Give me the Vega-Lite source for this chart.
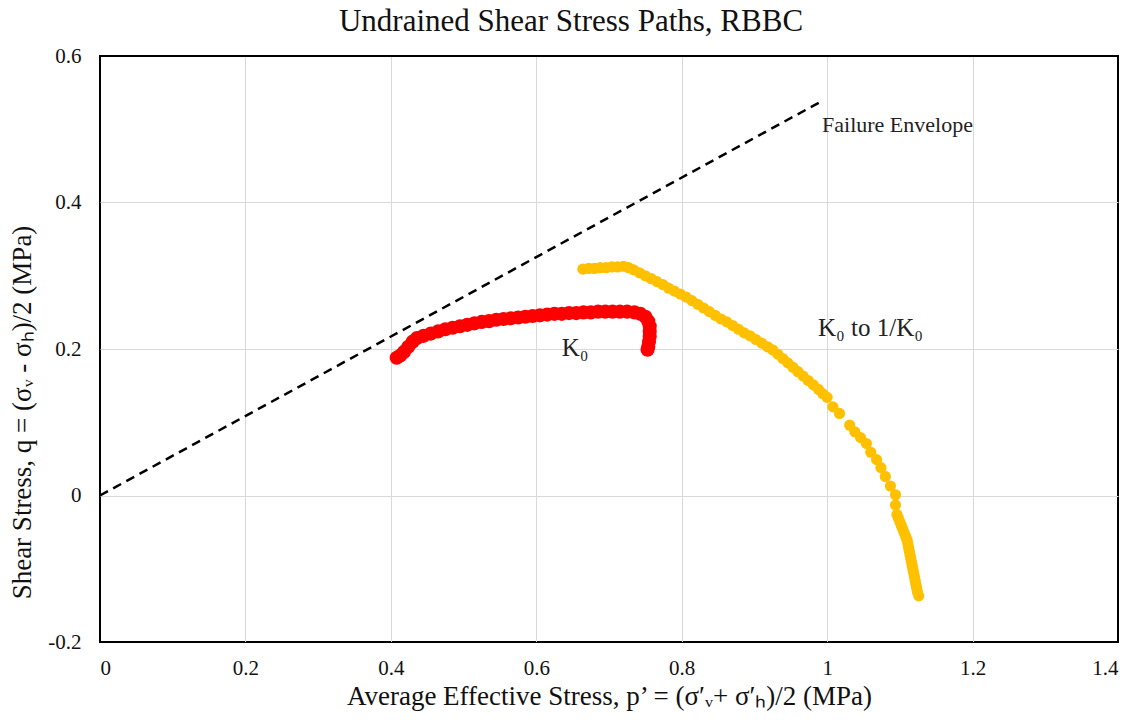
{
  "$schema": "https://vega.github.io/schema/vega-lite/v6.json",
  "width": 1018,
  "height": 586,
  "autosize": {"type": "none"},
  "padding": {"left": 100, "top": 56, "right": 20, "bottom": 83},
  "background": "white",
  "config": {
    "font": "Liberation Serif",
    "view": {"stroke": "#000", "strokeWidth": 2},
    "axis": {
      "domain": false,
      "ticks": false,
      "grid": true,
      "gridWidth": 1,
      "labelFont": "Liberation Serif",
      "labelFontSize": 21,
      "labelColor": "#111",
      "titleFont": "Liberation Serif",
      "titleFontSize": 27,
      "titleFontWeight": "normal",
      "titleColor": "#111"
    }
  },
  "title": {
    "text": "Undrained Shear Stress Paths, RBBC",
    "font": "Liberation Serif",
    "fontSize": 31,
    "fontWeight": "normal",
    "color": "#111",
    "anchor": "middle",
    "frame": "group",
    "dx": -38,
    "dy": 30,
    "baseline": "alphabetic",
    "offset": 13
  },
  "datasets": {
    "envelope": [
      {"p": 0, "q": 0},
      {"p": 0.99, "q": 0.537}
    ],
    "labels": [
      {"p": 0.993, "q": 0.496, "text": "Failure Envelope", "kind": "small"},
      {"p": 0.635, "q": 0.19, "text": "K₀", "kind": "big"},
      {"p": 0.9875, "q": 0.218, "text": "K₀ to 1/K₀", "kind": "big"}
    ],
    "paths": [
      {"series": "K0", "p": 0.408, "q": 0.188},
      {"series": "K0", "p": 0.413, "q": 0.191},
      {"series": "K0", "p": 0.418, "q": 0.196},
      {"series": "K0", "p": 0.424, "q": 0.203},
      {"series": "K0", "p": 0.430, "q": 0.210},
      {"series": "K0", "p": 0.436, "q": 0.215},
      {"series": "K0", "p": 0.445, "q": 0.218},
      {"series": "K0", "p": 0.455, "q": 0.221},
      {"series": "K0", "p": 0.465, "q": 0.224},
      {"series": "K0", "p": 0.475, "q": 0.227},
      {"series": "K0", "p": 0.485, "q": 0.229},
      {"series": "K0", "p": 0.495, "q": 0.231},
      {"series": "K0", "p": 0.505, "q": 0.233},
      {"series": "K0", "p": 0.515, "q": 0.235},
      {"series": "K0", "p": 0.525, "q": 0.237},
      {"series": "K0", "p": 0.535, "q": 0.238},
      {"series": "K0", "p": 0.545, "q": 0.240},
      {"series": "K0", "p": 0.555, "q": 0.241},
      {"series": "K0", "p": 0.565, "q": 0.242},
      {"series": "K0", "p": 0.575, "q": 0.243},
      {"series": "K0", "p": 0.585, "q": 0.244},
      {"series": "K0", "p": 0.595, "q": 0.245},
      {"series": "K0", "p": 0.605, "q": 0.246},
      {"series": "K0", "p": 0.615, "q": 0.247},
      {"series": "K0", "p": 0.625, "q": 0.248},
      {"series": "K0", "p": 0.635, "q": 0.248},
      {"series": "K0", "p": 0.645, "q": 0.249},
      {"series": "K0", "p": 0.655, "q": 0.249},
      {"series": "K0", "p": 0.665, "q": 0.250},
      {"series": "K0", "p": 0.675, "q": 0.250},
      {"series": "K0", "p": 0.685, "q": 0.251},
      {"series": "K0", "p": 0.695, "q": 0.251},
      {"series": "K0", "p": 0.705, "q": 0.251},
      {"series": "K0", "p": 0.715, "q": 0.251},
      {"series": "K0", "p": 0.725, "q": 0.251},
      {"series": "K0", "p": 0.735, "q": 0.250},
      {"series": "K0", "p": 0.743, "q": 0.248},
      {"series": "K0", "p": 0.750, "q": 0.244},
      {"series": "K0", "p": 0.754, "q": 0.238},
      {"series": "K0", "p": 0.756, "q": 0.231},
      {"series": "K0", "p": 0.756, "q": 0.224},
      {"series": "K0", "p": 0.756, "q": 0.217},
      {"series": "K0", "p": 0.755, "q": 0.210},
      {"series": "K0", "p": 0.754, "q": 0.203},
      {"series": "K0", "p": 0.753, "q": 0.199},
      {"series": "K0 to 1/K0", "p": 0.664, "q": 0.309},
      {"series": "K0 to 1/K0", "p": 0.672, "q": 0.310},
      {"series": "K0 to 1/K0", "p": 0.680, "q": 0.310},
      {"series": "K0 to 1/K0", "p": 0.688, "q": 0.311},
      {"series": "K0 to 1/K0", "p": 0.696, "q": 0.311},
      {"series": "K0 to 1/K0", "p": 0.704, "q": 0.312},
      {"series": "K0 to 1/K0", "p": 0.712, "q": 0.312},
      {"series": "K0 to 1/K0", "p": 0.720, "q": 0.313},
      {"series": "K0 to 1/K0", "p": 0.727, "q": 0.311},
      {"series": "K0 to 1/K0", "p": 0.734, "q": 0.308},
      {"series": "K0 to 1/K0", "p": 0.742, "q": 0.304},
      {"series": "K0 to 1/K0", "p": 0.750, "q": 0.300},
      {"series": "K0 to 1/K0", "p": 0.758, "q": 0.296},
      {"series": "K0 to 1/K0", "p": 0.766, "q": 0.292},
      {"series": "K0 to 1/K0", "p": 0.774, "q": 0.288},
      {"series": "K0 to 1/K0", "p": 0.782, "q": 0.283},
      {"series": "K0 to 1/K0", "p": 0.790, "q": 0.279},
      {"series": "K0 to 1/K0", "p": 0.798, "q": 0.275},
      {"series": "K0 to 1/K0", "p": 0.806, "q": 0.271},
      {"series": "K0 to 1/K0", "p": 0.814, "q": 0.266},
      {"series": "K0 to 1/K0", "p": 0.822, "q": 0.261},
      {"series": "K0 to 1/K0", "p": 0.830, "q": 0.256},
      {"series": "K0 to 1/K0", "p": 0.838, "q": 0.251},
      {"series": "K0 to 1/K0", "p": 0.846, "q": 0.246},
      {"series": "K0 to 1/K0", "p": 0.854, "q": 0.241},
      {"series": "K0 to 1/K0", "p": 0.862, "q": 0.237},
      {"series": "K0 to 1/K0", "p": 0.870, "q": 0.232},
      {"series": "K0 to 1/K0", "p": 0.878, "q": 0.227},
      {"series": "K0 to 1/K0", "p": 0.886, "q": 0.222},
      {"series": "K0 to 1/K0", "p": 0.894, "q": 0.218},
      {"series": "K0 to 1/K0", "p": 0.902, "q": 0.213},
      {"series": "K0 to 1/K0", "p": 0.910, "q": 0.208},
      {"series": "K0 to 1/K0", "p": 0.918, "q": 0.203},
      {"series": "K0 to 1/K0", "p": 0.925, "q": 0.199},
      {"series": "K0 to 1/K0", "p": 0.932, "q": 0.193},
      {"series": "K0 to 1/K0", "p": 0.939, "q": 0.187},
      {"series": "K0 to 1/K0", "p": 0.946, "q": 0.181},
      {"series": "K0 to 1/K0", "p": 0.953, "q": 0.175},
      {"series": "K0 to 1/K0", "p": 0.960, "q": 0.169},
      {"series": "K0 to 1/K0", "p": 0.967, "q": 0.163},
      {"series": "K0 to 1/K0", "p": 0.974, "q": 0.157},
      {"series": "K0 to 1/K0", "p": 0.981, "q": 0.151},
      {"series": "K0 to 1/K0", "p": 0.988, "q": 0.145},
      {"series": "K0 to 1/K0", "p": 0.994, "q": 0.139},
      {"series": "K0 to 1/K0", "p": 1.000, "q": 0.134},
      {"series": "K0 to 1/K0", "p": 1.008, "q": 0.121},
      {"series": "K0 to 1/K0", "p": 1.017, "q": 0.112},
      {"series": "K0 to 1/K0", "p": 1.031, "q": 0.096},
      {"series": "K0 to 1/K0", "p": 1.038, "q": 0.087},
      {"series": "K0 to 1/K0", "p": 1.046, "q": 0.079},
      {"series": "K0 to 1/K0", "p": 1.054, "q": 0.071},
      {"series": "K0 to 1/K0", "p": 1.060, "q": 0.059},
      {"series": "K0 to 1/K0", "p": 1.068, "q": 0.049},
      {"series": "K0 to 1/K0", "p": 1.074, "q": 0.038},
      {"series": "K0 to 1/K0", "p": 1.080, "q": 0.026},
      {"series": "K0 to 1/K0", "p": 1.087, "q": 0.013},
      {"series": "K0 to 1/K0", "p": 1.094, "q": 0.001},
      {"series": "K0 to 1/K0", "p": 1.094, "q": -0.013},
      {"series": "K0 to 1/K0", "p": 1.096, "q": -0.026},
      {"series": "K0 to 1/K0", "p": 1.098, "q": -0.031},
      {"series": "K0 to 1/K0", "p": 1.100, "q": -0.036},
      {"series": "K0 to 1/K0", "p": 1.102, "q": -0.041},
      {"series": "K0 to 1/K0", "p": 1.104, "q": -0.046},
      {"series": "K0 to 1/K0", "p": 1.106, "q": -0.051},
      {"series": "K0 to 1/K0", "p": 1.108, "q": -0.056},
      {"series": "K0 to 1/K0", "p": 1.110, "q": -0.061},
      {"series": "K0 to 1/K0", "p": 1.111, "q": -0.066},
      {"series": "K0 to 1/K0", "p": 1.112, "q": -0.071},
      {"series": "K0 to 1/K0", "p": 1.113, "q": -0.076},
      {"series": "K0 to 1/K0", "p": 1.114, "q": -0.081},
      {"series": "K0 to 1/K0", "p": 1.115, "q": -0.086},
      {"series": "K0 to 1/K0", "p": 1.116, "q": -0.091},
      {"series": "K0 to 1/K0", "p": 1.117, "q": -0.096},
      {"series": "K0 to 1/K0", "p": 1.118, "q": -0.101},
      {"series": "K0 to 1/K0", "p": 1.119, "q": -0.106},
      {"series": "K0 to 1/K0", "p": 1.120, "q": -0.111},
      {"series": "K0 to 1/K0", "p": 1.121, "q": -0.116},
      {"series": "K0 to 1/K0", "p": 1.122, "q": -0.121},
      {"series": "K0 to 1/K0", "p": 1.123, "q": -0.126},
      {"series": "K0 to 1/K0", "p": 1.124, "q": -0.131},
      {"series": "K0 to 1/K0", "p": 1.126, "q": -0.137}
    ]
  },
  "encoding": {
    "x": {
      "field": "p",
      "type": "quantitative",
      "scale": {"domain": [0, 1.4], "nice": false, "zero": false},
      "axis": {
        "values": [0, 0.2, 0.4, 0.6, 0.8, 1, 1.2, 1.4],
        "labelExpr": "replace(format(datum.value, '.1~f'), '−', '-')",
        "gridColor": {"condition": {"test": "datum.value <= 0.001 || datum.value >= 1.399", "value": "#000"}, "value": "#d9d9d9"},
        "labelPadding": 15,
        "titlePadding": 5,
        "title": "Average Effective Stress, p’ = (σ′ᵥ+ σ′ₕ)/2  (MPa)"
      }
    },
    "y": {
      "field": "q",
      "type": "quantitative",
      "scale": {"domain": [-0.2, 0.6], "nice": false, "zero": false},
      "axis": {
        "values": [-0.2, 0, 0.2, 0.4, 0.6],
        "labelExpr": "replace(format(datum.value, '.1~f'), '−', '-')",
        "gridColor": {"condition": {"test": "datum.value <= -0.199 || datum.value >= 0.599", "value": "#000"}, "value": "#d9d9d9"},
        "labelPadding": 19,
        "titlePadding": 11,
        "titleY": 356,
        "title": "Shear Stress, q = (σᵥ - σₕ)/2  (MPa)"
      }
    }
  },
  "layer": [
    {
      "data": {"name": "envelope"},
      "mark": {"type": "line", "color": "#000", "strokeWidth": 2.5, "strokeDash": [9, 6]}
    },
    {
      "data": {"name": "paths"},
      "mark": {"type": "circle", "opacity": 1},
      "encoding": {
        "color": {"field": "series", "type": "nominal", "scale": {"domain": ["K0", "K0 to 1/K0"], "range": ["#FF0000", "#FFC000"]}, "legend": null},
        "size": {"field": "series", "type": "nominal", "scale": {"domain": ["K0", "K0 to 1/K0"], "range": [200, 125]}, "legend": null}
      }
    },
    {
      "data": {"name": "labels"},
      "transform": [{"filter": "datum.kind == 'small'"}],
      "mark": {"type": "text", "align": "left", "baseline": "alphabetic", "font": "Liberation Serif", "fontSize": 22, "color": "#222"},
      "encoding": {"text": {"field": "text"}}
    },
    {
      "data": {"name": "labels"},
      "transform": [{"filter": "datum.kind == 'big'"}],
      "mark": {"type": "text", "align": "left", "baseline": "alphabetic", "font": "Liberation Serif", "fontSize": 25, "color": "#222"},
      "encoding": {"text": {"field": "text"}}
    }
  ]
}
